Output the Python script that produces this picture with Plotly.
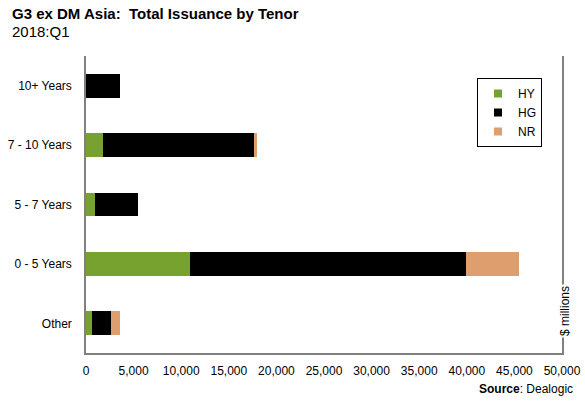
import plotly.graph_objects as go

categories = ["Other", "0 - 5 Years", "5 - 7 Years", "7 - 10 Years", "10+ Years"]
hy = [660, 10900, 950, 1750, 0]
hg = [1970, 29000, 4550, 15930, 3550]
nr = [940, 5600, 0, 250, 0]
x_ticks = [0, 5000, 10000, 15000, 20000, 25000, 30000, 35000, 40000, 45000, 50000]

series = [("HY", hy, "#78A22F"), ("HG", hg, "#000000"), ("NR", nr, "#DE9E6E")]

fig = go.Figure()
for name, vals, col in series:
    fig.add_trace(go.Bar(y=categories, x=vals, name=name, orientation="h",
                         marker=dict(color=col, line=dict(width=0)), showlegend=False))
# legend entries with small square swatches
for name, vals, col in series:
    fig.add_trace(go.Scatter(x=[None], y=[None], mode="markers", name=name,
                             marker=dict(symbol="square", size=8, color=col)))

W, H = 585, 408
pl, pr, pt, pb = 86, 23, 56, 55
pw, ph = W - pl - pr, H - pt - pb

def px(x):
    return (x - pl) / pw

def py(y):
    return (H - y - pb) / ph

font = "Liberation Sans, Arial, sans-serif"
fig.update_layout(
    barmode="stack", bargap=0.6,
    width=W, height=H,
    margin=dict(l=pl, r=pr, t=pt, b=pb),
    paper_bgcolor="white", plot_bgcolor="white",
    font=dict(family=font, size=12, color="#000000"),
    showlegend=True,
    legend=dict(x=px(542), y=py(78), xanchor="right", yanchor="top",
                bordercolor="#000000", borderwidth=1, bgcolor="white",
                font=dict(size=12), traceorder="normal",
                itemwidth=30, tracegroupgap=0),
    xaxis=dict(range=[0, 50000], tickvals=x_ticks,
               ticktext=[f"{v:,}" for v in x_ticks],
               showline=True, linecolor="#808080", linewidth=1.5,
               showgrid=False, zeroline=False, ticks="", ticklabelstandoff=6,
               automargin=False),
    yaxis=dict(categoryorder="array", categoryarray=categories,
               range=[-0.5, 4.5],
               showline=True, mirror=True, linecolor="#808080", linewidth=1.5,
               showgrid=False, zeroline=False, ticks="", ticklabelstandoff=10,
               automargin=False),
    annotations=[
        dict(text="<b>G3 ex DM Asia:  Total Issuance by Tenor</b>", x=px(10), y=py(14),
             xref="paper", yref="paper", showarrow=False, xanchor="left", yanchor="middle",
             font=dict(size=15)),
        dict(text="2018:Q1", x=px(10), y=py(32), xref="paper", yref="paper",
             showarrow=False, xanchor="left", yanchor="middle", font=dict(size=15)),
        dict(text="$ millions", x=px(565), y=py(311), xref="paper", yref="paper",
             showarrow=False, textangle=-90, xanchor="center", yanchor="middle",
             bgcolor="white", font=dict(size=12)),
        dict(text="<b>Source</b>: Dealogic", x=px(575), y=py(389), xref="paper", yref="paper",
             showarrow=False, xanchor="right", yanchor="middle", font=dict(size=12)),
    ],
)
fig.write_html("out.html", config={"displayModeBar": False},
               post_script="document.body.style.margin='0';document.body.style.overflow='hidden';")
